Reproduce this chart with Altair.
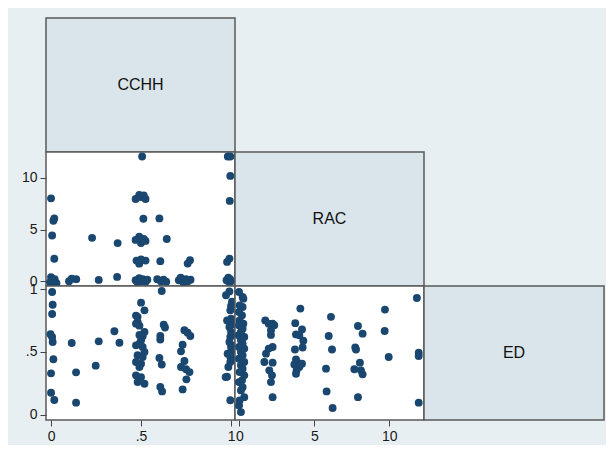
import altair as alt
import pandas as pd

# ---------------- data ----------------
# Panel A: CCHH (x) vs RAC (y)
a_cchh = [0.0, 0.018, 0.013, 0.006, 0.228, 0.37, 0.018,
          0.0, 0.008, 0.02, -0.005, 0.03,
          0.10, 0.115, 0.14, 0.265, 0.367,
          0.506, 0.47, 0.49, 0.50, 0.515, 0.525, 0.513, 0.602,
          0.47, 0.49, 0.50, 0.515, 0.525, 0.643,
          0.475, 0.49, 0.50, 0.525, 0.607, 0.759, 0.772,
          0.47, 0.48, 0.49, 0.50, 0.51, 0.525, 0.535,
          0.59, 0.61, 0.625, 0.64,
          0.71, 0.72, 0.735, 0.75, 0.76, 0.775,
          0.982, 0.996, 0.996, 0.993, 0.991, 0.978,
          0.975, 0.985, 0.99, 0.995, 1.0]
a_rac = [8.02, 6.08, 5.85, 4.43, 4.2, 3.69, 2.17,
         0.4, 0.1, 0.2, -0.1, -0.2,
         0.0, 0.25, 0.2, 0.13, 0.42,
         12.07, 7.95, 8.35, 8.15, 8.3, 7.95, 6.05, 6.08,
         4.0, 4.3, 3.7, 4.1, 3.9, 4.08,
         2.0, 1.7, 2.1, 2.0, 1.94, 1.71, 2.04,
         0.1, -0.1, 0.3, 0.0, 0.2, -0.05, 0.15,
         0.2, 0.0, 0.15, -0.05,
         0.1, 0.35, -0.1, 0.2, 0.0, 0.15,
         12.07, 12.07, 10.19, 7.77, 2.19, 1.87,
         0.1, 0.35, -0.1, 0.2, 0.0]

# Panel B: CCHH (x) vs ED (y)
b_cchh = [0.006, 0.009, 0.006, -0.003, 0.006, 0.009, 0.013, 0.0, 0.0, 0.018,
          0.115, 0.139, 0.139, 0.248, 0.265, 0.352, 0.380,
          0.5, 0.519, 0.472, 0.481, 0.481, 0.472, 0.491, 0.519, 0.491, 0.509,
          0.5, 0.472, 0.509, 0.491, 0.519, 0.481, 0.509, 0.472, 0.5, 0.491,
          0.472, 0.5, 0.481, 0.519,
          0.615, 0.626, 0.633, 0.607, 0.607, 0.602, 0.615, 0.607, 0.617,
          0.741, 0.759, 0.774, 0.731, 0.722, 0.741, 0.722, 0.75, 0.769, 0.752, 0.731,
          0.972, 0.991, 1.0, 0.996, 1.0, 0.978, 0.991, 1.0, 0.996, 0.991, 1.0,
          0.981, 0.996, 0.996, 0.978, 0.996,
          1.005, 1.01, 1.005, 1.01, 1.0, 1.01, 0.985, 0.97]
b_ed = [0.978, 0.877, 0.803, 0.641, 0.62, 0.58, 0.442, 0.33, 0.175, 0.117,
        0.572, 0.338, 0.096, 0.391, 0.585, 0.665, 0.574,
        0.893, 0.832, 0.79, 0.78, 0.74, 0.726, 0.71, 0.66, 0.636, 0.625,
        0.593, 0.553, 0.54, 0.566, 0.5, 0.474, 0.46, 0.42, 0.407, 0.38,
        0.314, 0.30, 0.26, 0.247,
        0.986, 0.718, 0.695, 0.627, 0.60, 0.452, 0.40, 0.221, 0.186,
        0.673, 0.654, 0.627, 0.558, 0.505, 0.428, 0.380, 0.362, 0.34, 0.282, 0.202,
        0.952, 0.983, 0.867, 0.832, 0.766, 0.752, 0.70, 0.66, 0.62, 0.58, 0.54,
        0.487, 0.46, 0.42, 0.303, 0.115,
        0.90, 0.72, 0.64, 0.55, 0.50, 0.44, 0.38, 0.30]

# Panel C: RAC (x) vs ED (y)
c_rac = [-0.02, 0.22, 0.27, 0.02, 0.22, -0.02, 0.18, 0.02, 0.27, -0.02,
         0.22, 0.11, -0.04, 0.33, 0.11, 0.22, -0.02, 0.33, 0.11, 0.22,
         -0.02, 0.33, 0.11, 0.22, 0.02, 0.33, 0.18, -0.02, 0.22, 0.11,
         0.33, 0.02, -0.02, 0.11,
         1.73, 1.96, 2.22, 2.33, 2.11, 2.11, 2.22, 1.96, 1.78, 1.67, 2.22,
         2.0, 2.18, 2.11, 2.22,
         4.07, 3.73, 4.18, 3.78, 4.0, 4.27, 4.22, 3.71, 3.78, 3.89, 4.18,
         3.67, 4.0, 3.82, 3.78,
         6.11, 5.96, 6.18, 5.78, 5.82, 6.22,
         7.91, 8.22, 7.73, 7.78, 8.04, 7.67, 8.11, 8.22, 7.91,
         9.71, 9.69, 9.96,
         11.84, 11.96, 11.96, 11.96]
c_ed = [0.978, 0.939, 0.925, 0.872, 0.859, 0.819, 0.792, 0.752, 0.726, 0.713,
        0.686, 0.66, 0.633, 0.62, 0.593, 0.566, 0.54, 0.527, 0.5, 0.474,
        0.447, 0.42, 0.394, 0.367, 0.34, 0.314, 0.274, 0.26, 0.22, 0.194,
        0.14, 0.114, 0.074, 0.021,
        0.752, 0.726, 0.726, 0.713, 0.673, 0.636, 0.54, 0.527, 0.487, 0.42, 0.415,
        0.354, 0.314, 0.26, 0.14,
        0.846, 0.73, 0.68, 0.64, 0.633, 0.59, 0.536, 0.52, 0.44, 0.415, 0.407,
        0.40, 0.38, 0.354, 0.327,
        0.78, 0.627, 0.52, 0.367, 0.186, 0.054,
        0.707, 0.646, 0.536, 0.52, 0.415, 0.362, 0.354, 0.322, 0.14,
        0.838, 0.667, 0.46,
        0.93, 0.494, 0.468, 0.096]

names = ["CCHH", "RAC", "ED"]
cchh_ticks = [0, 0.5, 1]
rac_ticks = [0, 5, 10]
ed_ticks = [0, 0.5, 1]

# ---------------- styling ----------------
W, H = 189, 134
W3 = 180          # last column a little narrower so the page does not overflow
FONT = "Liberation Sans"
NAVY = "#1a476f"
BG = "#e8eff2"
DIAG = "#d9e5eb"
FRAME = "#5a5a5a"

CCHH_DOM = [-0.028, 1.022]
RAC_X_DOM = [-0.287, 12.313]
RAC_Y_DOM = [-0.46, 12.5]
ED_DOM = [-0.042, 1.026]

LBL = "datum.value == 0.5 ? '.5' : format(datum.value, 'd')"


def axis(vals):
    return alt.Axis(values=vals, labelExpr=LBL, title=None, grid=False, domain=False,
                    tickSize=6, tickColor="#444", tickWidth=1, labelPadding=3,
                    labelFontSize=14, labelFont=FONT, labelColor="#1a1a1a",
                    labelOverlap=False)


def scatter(xs, ys, xdom, ydom, xvals, yvals):
    df = pd.DataFrame({"x": xs, "y": ys})
    xa = axis(xvals) if xvals else None
    ya = axis(yvals) if yvals else None
    return alt.Chart(df).mark_circle(size=62, color=NAVY, opacity=1).encode(
        x=alt.X("x:Q", scale=alt.Scale(domain=xdom, nice=False, zero=False), axis=xa),
        y=alt.Y("y:Q", scale=alt.Scale(domain=ydom, nice=False, zero=False), axis=ya),
    ).properties(width=W, height=H,
                 view=alt.ViewBackground(fill="white", stroke=FRAME, strokeWidth=1.5))


def diag(name, w=W):
    df = pd.DataFrame({"t": [name]})
    return alt.Chart(df).mark_text(
        font=FONT, fontSize=16, color="#111", align="center", baseline="middle"
    ).encode(text="t:N", x=alt.value(w / 2), y=alt.value(H / 2)).properties(
        width=w, height=H,
        view=alt.ViewBackground(fill=DIAG, stroke=FRAME, strokeWidth=1.5))


def blank(w=W):
    df = pd.DataFrame({"t": [""]})
    return alt.Chart(df).mark_text(opacity=0).encode(
        text="t:N", x=alt.value(w / 2), y=alt.value(H / 2)
    ).properties(width=w, height=H,
                 view=alt.ViewBackground(fill="transparent", stroke="transparent"))


pA = scatter(a_cchh, a_rac, CCHH_DOM, RAC_Y_DOM, None, rac_ticks)
pB = scatter(b_cchh, b_ed, CCHH_DOM, ED_DOM, cchh_ticks, ed_ticks)
pC = scatter(c_rac, c_ed, RAC_X_DOM, ED_DOM, rac_ticks, None)

cells = [diag(names[0]), blank(), blank(W3),
         pA, diag(names[1]), blank(W3),
         pB, pC, diag(names[2], W3)]

chart = alt.concat(*cells, columns=3, spacing=0, bounds="flush").resolve_scale(
    x="independent", y="independent"
).properties(
    background=BG,
    padding={"left": 12, "top": 9, "right": 1, "bottom": 1},
)

chart.save("out.html", embed_options={"renderer": "svg", "actions": False})
